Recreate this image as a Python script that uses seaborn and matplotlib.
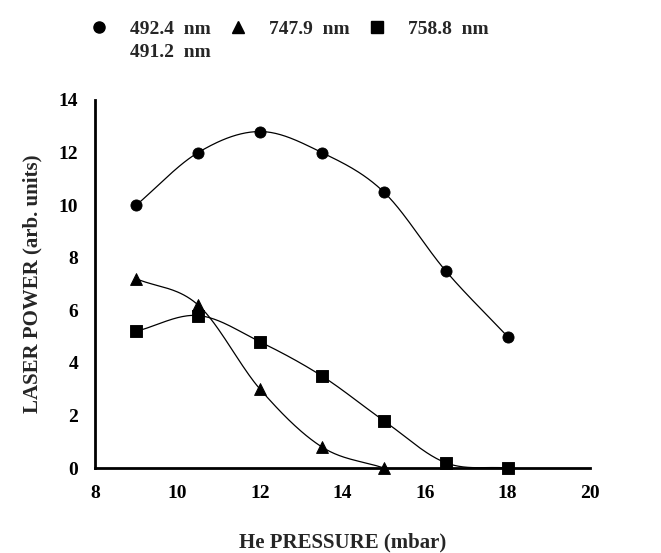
import numpy as np
import pandas as pd
import matplotlib
matplotlib.use("Agg")
import matplotlib.pyplot as plt
from matplotlib.lines import Line2D
import seaborn as sns

pressure = [9, 10.5, 12, 13.5, 15, 16.5, 18]
p_492 = [10.0, 12.0, 12.8, 12.0, 10.5, 7.5, 5.0]
p_747 = [7.2, 6.2, 3.0, 0.8, 0.0]
p_758 = [5.2, 5.8, 4.8, 3.5, 1.8, 0.2, 0.0]
labels = ["492.4  nm", "747.9  nm", "758.8  nm", "491.2  nm"]
xticks = [8, 10, 12, 14, 16, 18, 20]
yticks = [0, 2, 4, 6, 8, 10, 12, 14]

sns.set_style("white")
plt.rcParams["font.family"] = ["Liberation Serif", "DejaVu Serif"]
plt.rcParams["font.weight"] = "bold"


def smooth(x, y, n=40):
    x = np.asarray(x, float)
    y = np.asarray(y, float)
    px = np.concatenate([[2 * x[0] - x[1]], x, [2 * x[-1] - x[-2]]])
    py = np.concatenate([[2 * y[0] - y[1]], y, [2 * y[-1] - y[-2]]])
    xs, ys = [], []
    for i in range(1, len(px) - 2):
        t = np.linspace(0, 1, n)
        for arr, out in ((px, xs), (py, ys)):
            p0, p1, p2, p3 = arr[i - 1], arr[i], arr[i + 1], arr[i + 2]
            out.extend(0.5 * ((2 * p1) + (-p0 + p2) * t + (2 * p0 - 5 * p1 + 4 * p2 - p3) * t ** 2
                              + (-p0 + 3 * p1 - 3 * p2 + p3) * t ** 3))
    return np.array(xs), np.array(ys)


fig = plt.figure(figsize=(6.61, 5.53), dpi=100)
ax = fig.add_axes([0.1437, 0.1537, 0.749, 0.6655])

series = [(pressure, p_492, "o", 8), (pressure[:len(p_747)], p_747, "^", 8.5), (pressure, p_758, "s", 8)]
for xs, ys, m, ms in series:
    sx, sy = smooth(xs, ys)
    sy = np.maximum(sy, 0)
    sns.lineplot(x=sx, y=sy, ax=ax, color="black", lw=0.9, sort=False, estimator=None)
    sns.scatterplot(x=xs, y=ys, ax=ax, marker=m, s=ms ** 2, color="black", edgecolor="black",
                    zorder=5, clip_on=False)

ax.set_xlim(8, 20)
ax.set_ylim(0, 14)
ax.set_xticks(xticks)
ax.set_yticks(yticks)
ax.set_xticklabels([str(v) for v in xticks], fontsize=14, fontweight="bold")
ax.set_yticklabels([str(v) for v in yticks], fontsize=14, fontweight="bold")
ax.tick_params(axis="y", direction="in", length=5, width=1.5, colors="black", pad=12)
ax.tick_params(axis="x", direction="in", length=5, width=1.5, colors="black", pad=12)
for s in ["top", "right"]:
    ax.spines[s].set_visible(False)
for s in ["left", "bottom"]:
    ax.spines[s].set_linewidth(2)
    ax.spines[s].set_color("black")

ax.set_xlabel("He PRESSURE (mbar)", fontsize=15, fontweight="bold", labelpad=22)
ax.set_ylabel("LASER POWER (arb. units)", fontsize=15, fontweight="bold", labelpad=12)

h_492 = Line2D([], [], marker="o", ls="none", color="black", ms=8)
h_747 = Line2D([], [], marker="^", ls="none", color="black", ms=8)
h_758 = Line2D([], [], marker="s", ls="none", color="black", ms=8)
h_491 = Line2D([], [], marker="None", ls="none", color="black")
# order chosen so the column-major legend reads row by row like the reference
fig.legend([h_492, h_491, h_747, h_758], [labels[0], labels[3], labels[1], labels[2]],
           loc="upper left", bbox_to_anchor=(0.108, 0.995), ncol=3, frameon=False,
           prop={"size": 14, "weight": "bold"}, handletextpad=1.1, columnspacing=0.9,
           handlelength=1.0, labelspacing=0.3)

fig.savefig("out.png", dpi=100)
